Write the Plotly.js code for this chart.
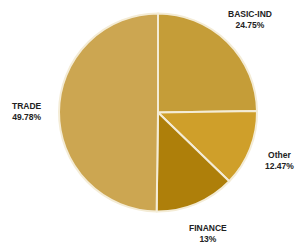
<!DOCTYPE html>
<html><head><meta charset="utf-8">
<script src="https://cdn.plot.ly/plotly-3.0.1.min.js"></script>
<style>html,body{margin:0;padding:0;background:#fff}#chart{width:295px;height:247px}</style>
</head><body><div id="chart"></div>
<script>
const labels = ['BASIC-IND', 'Other', 'FINANCE', 'TRADE'];
const values = [24.75, 12.47, 13, 49.78];
const colors = ['#C59D38', '#CF9F2A', '#AE7F0A', '#CCA651'];

const W = 295, H = 247;
const cx = 158, cy = 112.5, R = 99;
const dom = {
  x: [(cx - R) / W, (cx + R) / W],
  y: [(H - cy - R) / H, (H - cy + R) / H]
};

const total = values.reduce((a, b) => a + b, 0);
let cum = 0;
const annotations = labels.map((lab, i) => {
  const mid = (cum + values[i] / 2) / total * 2 * Math.PI;
  cum += values[i];
  const px = cx + 1.32 * R * Math.sin(mid);
  const py = cy - 1.32 * R * Math.cos(mid);
  return {
    x: px / W, y: 1 - py / H, xref: 'paper', yref: 'paper',
    xanchor: 'center', yanchor: 'middle', showarrow: false,
    text: lab + '<br>' + values[i] + '%',
    font: {family: 'Liberation Sans, Arial, sans-serif', size: 8.5, color: '#222', weight: 'bold'}
  };
});

Plotly.newPlot('chart', [{
  type: 'pie', labels: labels, values: values, sort: false,
  direction: 'clockwise', rotation: 0, textinfo: 'none',
  marker: {colors: colors, line: {color: '#F4ECD6', width: 2}},
  domain: dom, hoverinfo: 'label+percent'
}], {
  width: W, height: H, margin: {l: 0, r: 0, t: 0, b: 0},
  showlegend: false, paper_bgcolor: '#fff', annotations: annotations
}, {displayModeBar: false, staticPlot: true});
</script></body></html>
